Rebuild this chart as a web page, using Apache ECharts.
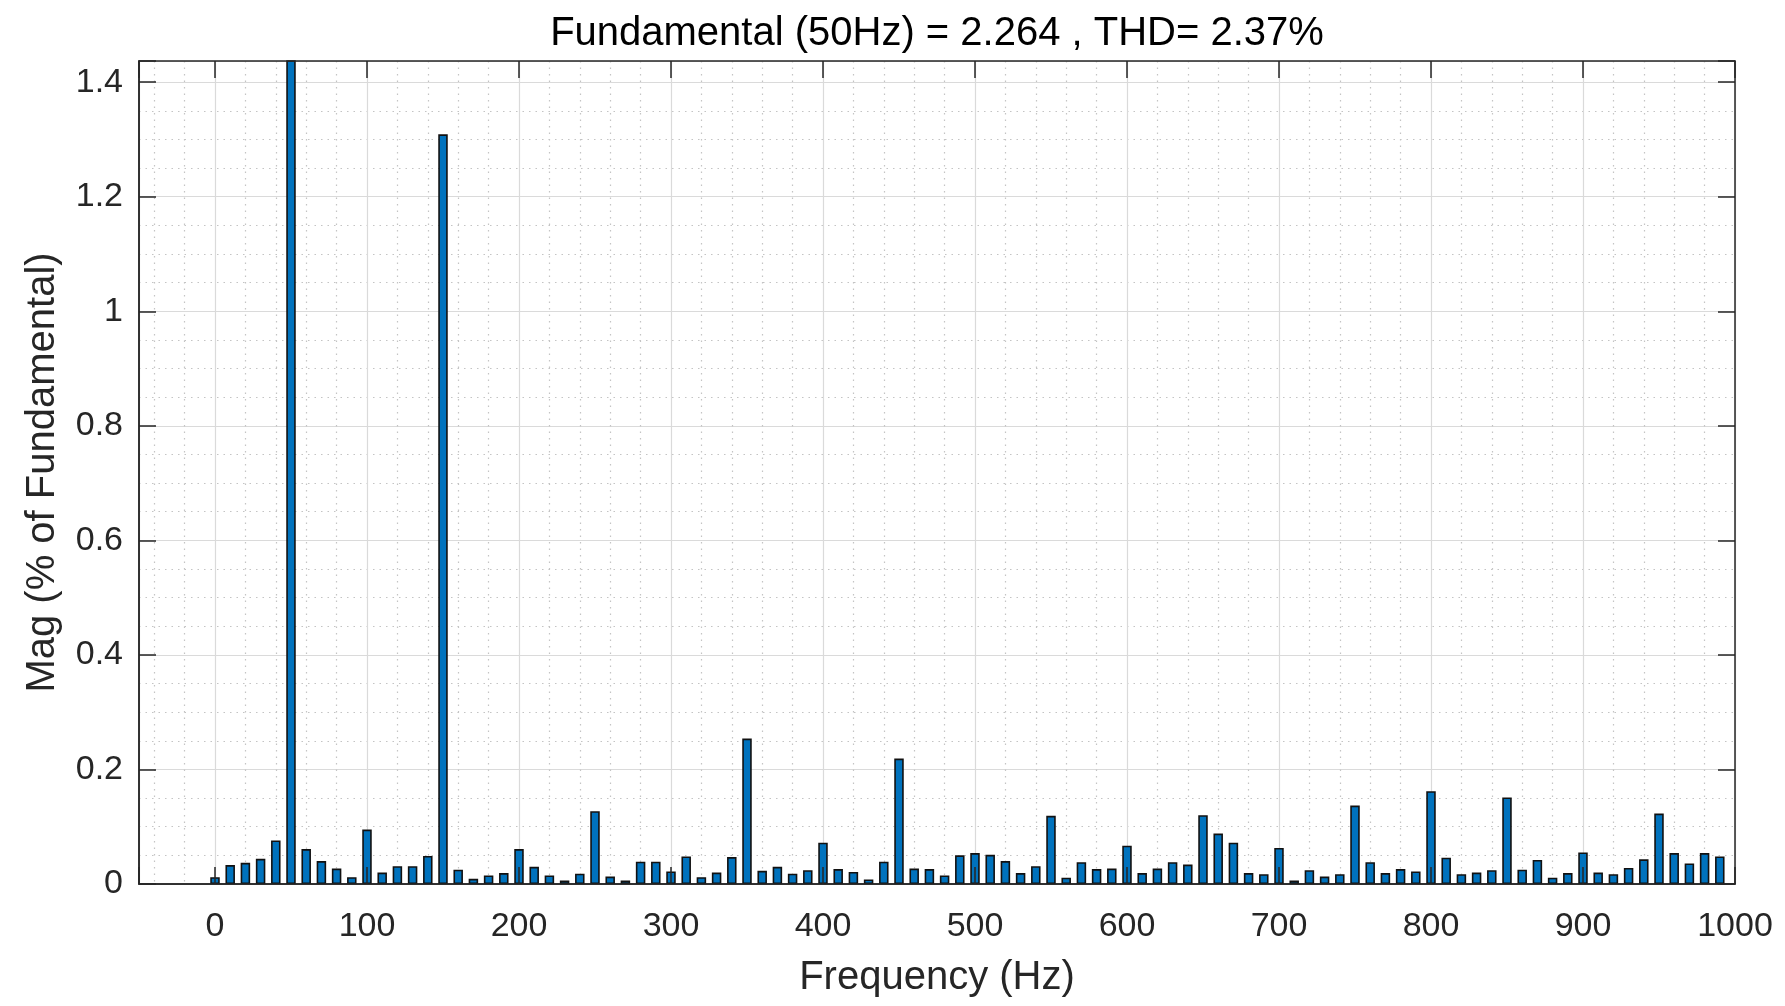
<!DOCTYPE html>
<html>
<head>
<meta charset="utf-8">
<script src="https://cdn.jsdelivr.net/npm/echarts@6/dist/echarts.min.js"></script>
<style>
html,body{margin:0;padding:0;background:#fff;}
#chart{width:1785px;height:1006px;}
</style>
</head>
<body>
<div id="chart"></div>
<script>
var titleText = 'Fundamental (50Hz) = 2.264 , THD= 2.37%';
var xName = 'Frequency (Hz)';
var yName = 'Mag (% of Fundamental)';
var freqs = [0,10,20,30,40,50,60,70,80,90,100,110,120,130,140,150,160,170,180,190,
  200,210,220,230,240,250,260,270,280,290,300,310,320,330,340,350,360,370,380,390,
  400,410,420,430,440,450,460,470,480,490,500,510,520,530,540,550,560,570,580,590,
  600,610,620,630,640,650,660,670,680,690,700,710,720,730,740,750,760,770,780,790,
  800,810,820,830,840,850,860,870,880,890,900,910,920,930,940,950,960,970,980,990];
var mags = [0.012,0.033,0.037,0.044,0.076,100,0.061,0.040,0.027,0.012,
  0.095,0.020,0.031,0.031,0.049,1.309,0.025,0.009,0.015,0.019,
  0.061,0.030,0.015,0.006,0.018,0.127,0.013,0.006,0.039,0.039,
  0.022,0.048,0.012,0.020,0.047,0.254,0.023,0.030,0.018,0.024,
  0.072,0.026,0.021,0.008,0.039,0.219,0.027,0.026,0.015,0.050,
  0.054,0.051,0.040,0.019,0.031,0.119,0.011,0.038,0.026,0.027,
  0.067,0.019,0.027,0.038,0.034,0.120,0.088,0.072,0.019,0.017,
  0.063,0.006,0.024,0.013,0.017,0.137,0.038,0.019,0.026,0.022,
  0.162,0.046,0.017,0.020,0.024,0.151,0.025,0.042,0.011,0.019,
  0.055,0.020,0.017,0.028,0.043,0.123,0.054,0.036,0.054,0.048];
var xMin = -50, xMax = 1000;
var yMin = 0, yMax = 1.437, yStep = 0.2;

var FONT = '"Liberation Sans", Arial, Helvetica, sans-serif';
var TXT = '#262626';
var data = freqs.map(function (f, i) { return [f, mags[i]]; });

var chart = echarts.init(document.getElementById('chart'), null, {renderer: 'canvas'});
var gridLine = {show: true, lineStyle: {color: '#dadada', width: 1.2, type: 'solid'}};
var minorLine = {show: true, lineStyle: {color: '#c4c4c4', width: 1.2, type: [1.5, 5]}};
var axLine = {show: true, onZero: false, lineStyle: {color: TXT, width: 1.5}};
var tickIn = {show: true, inside: true, length: 17, lineStyle: {color: TXT, width: 1.5}};
var plain = function (v) { return String(Math.round(v * 1000) / 1000); };

chart.setOption({
  animation: false,
  backgroundColor: '#ffffff',
  title: {
    text: titleText, left: 937, textAlign: 'center', top: 14, padding: 0,
    textStyle: {fontFamily: FONT, fontSize: 40, fontWeight: 'normal', color: '#000'}
  },
  grid: {left: 139, right: 50, top: 61, bottom: 122, containLabel: false},
  xAxis: [
    {
      type: 'value', min: xMin, max: xMax, splitNumber: 10, position: 'bottom',
      name: xName, nameLocation: 'middle', nameGap: 74,
      nameTextStyle: {fontFamily: FONT, fontSize: 40, color: TXT},
      axisLine: axLine, axisTick: {show: false},
      axisLabel: {fontFamily: FONT, fontSize: 34, color: TXT, margin: 26, showMinLabel: false, formatter: plain},
      splitLine: gridLine,
      minorTick: {show: false, splitNumber: 5},
      minorSplitLine: minorLine,
      z: 0
    },
    {
      type: 'value', min: xMin, max: xMax, splitNumber: 10, position: 'top',
      axisLine: axLine, axisTick: tickIn, axisLabel: {show: false},
      splitLine: {show: false}, z: 10
    },
    {
      type: 'value', min: xMin, max: xMax, splitNumber: 10, position: 'bottom',
      axisLine: axLine, axisTick: tickIn, axisLabel: {show: false},
      splitLine: {show: false}, z: 10
    }
  ],
  yAxis: [
    {
      type: 'value', min: yMin, max: yMax, interval: yStep, position: 'left',
      name: yName, nameLocation: 'middle', nameGap: 76, nameRotate: 90,
      nameTextStyle: {fontFamily: FONT, fontSize: 40, color: TXT},
      axisLine: axLine, axisTick: {show: false},
      axisLabel: {fontFamily: FONT, fontSize: 34, color: TXT, margin: 16, showMaxLabel: false, formatter: plain},
      splitLine: gridLine,
      minorTick: {show: false, splitNumber: 4},
      minorSplitLine: minorLine,
      z: 0
    },
    {
      type: 'value', min: yMin, max: yMax, interval: yStep, position: 'right',
      axisLine: axLine, axisTick: tickIn, axisLabel: {show: false},
      splitLine: {show: false}, z: 10
    },
    {
      type: 'value', min: yMin, max: yMax, interval: yStep, position: 'left',
      axisLine: axLine, axisTick: tickIn, axisLabel: {show: false},
      splitLine: {show: false}, z: 10
    }
  ],
  series: [{
    type: 'bar',
    xAxisIndex: 0, yAxisIndex: 0,
    data: data,
    barWidth: 9.5,
    clip: true,
    itemStyle: {color: '#0072BD', borderColor: '#111111', borderWidth: 1.6},
    z: 5
  }]
});
</script>
</body>
</html>
